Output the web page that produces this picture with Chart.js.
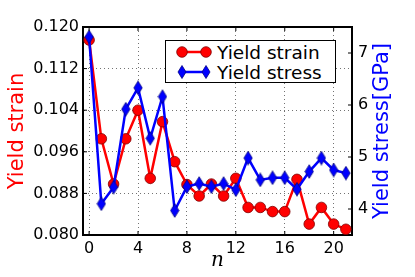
<!DOCTYPE html>
<html>
<head>
<meta charset="utf-8">
<script src="https://cdn.jsdelivr.net/npm/chart.js@4.4.1/dist/chart.umd.min.js"></script>
<style>
  html, body { margin: 0; padding: 0; background: #fff; }
  #wrap { position: relative; width: 415px; height: 277px; }
  #legend {
    position: absolute; left: 165px; top: 40px; width: 169px; height: 41px;
    border: 1.5px solid #000; background: #fff;
    font: 18.5px "DejaVu Sans", sans-serif; color: #000;
  }
  .row { position: absolute; left: 0; height: 20px; display: flex; align-items: center; }
  .row svg { margin-left: 10px; margin-right: 5px; }
</style>
</head>
<body>
<div id="wrap">
  <canvas id="chart" width="415" height="277"></canvas>
  <div id="legend">
    <div class="row" style="top:1px">
      <svg width="36" height="20">
        <line x1="6" y1="10" x2="30" y2="10" stroke="#ff0000" stroke-width="2.5"/>
        <circle cx="6" cy="10" r="5.3" fill="#ff0000" stroke="#800000" stroke-width="0.8"/>
        <circle cx="30" cy="10" r="5.3" fill="#ff0000" stroke="#800000" stroke-width="0.8"/>
      </svg>
      <span>Yield strain</span>
    </div>
    <div class="row" style="top:21px">
      <svg width="36" height="20">
        <line x1="6" y1="10" x2="30" y2="10" stroke="#0000ff" stroke-width="2.5"/>
        <polygon points="6,3.5 10,10 6,16.5 2,10" fill="#0000ff" stroke="#000080" stroke-width="0.8"/>
        <polygon points="30,3.5 34,10 30,16.5 26,10" fill="#0000ff" stroke="#000080" stroke-width="0.8"/>
      </svg>
      <span>Yield stress</span>
    </div>
  </div>
</div>
<script>
// Data
const nValues = [0, 1, 2, 3, 4, 5, 6, 7, 8, 9, 10, 11, 12, 13, 14, 15, 16, 17, 18, 19, 20, 21];
const yieldStrain = [0.1175, 0.0985, 0.0898, 0.0985, 0.1040, 0.0909, 0.1018, 0.0941, 0.0897, 0.0875, 0.0898,
                     0.0875, 0.0909, 0.0853, 0.0853, 0.0845, 0.0845, 0.0907, 0.0821, 0.0853, 0.0821, 0.0811];
const yieldStress = [7.31, 4.10, 4.42, 5.92, 6.33, 5.36, 6.16, 3.97, 4.43, 4.49, 4.43,
                     4.49, 4.37, 4.98, 4.56, 4.60, 4.60, 4.38, 4.72, 4.98, 4.75, 4.69];
const xTicks = [0, 4, 8, 12, 16, 20];
const strainTicks = [0.080, 0.088, 0.096, 0.104, 0.112, 0.120];
const stressTicks = [4, 5, 6, 7];

// thin diamond marker (matplotlib 'd')
function makeDiamond() {
  const c = document.createElement('canvas');
  c.width = 10; c.height = 15;
  const g = c.getContext('2d');
  g.beginPath();
  g.moveTo(5, 0.7); g.lineTo(9.2, 7.5); g.lineTo(5, 14.3); g.lineTo(0.8, 7.5); g.closePath();
  g.fillStyle = '#0000ff'; g.fill();
  g.lineWidth = 0.8; g.strokeStyle = '#000080'; g.stroke();
  return c;
}

const tickFont = { family: '"DejaVu Sans", sans-serif', size: 16 };
const gridStyle = { color: 'rgba(0,0,0,0.55)', lineWidth: 1, drawTicks: false };
const borderStyle = { display: true, color: '#000', width: 2 };

// axis titles + matplotlib-style inward tick marks
const axisTitles = {
  id: 'axisTitles',
  afterDraw(chart) {
    const { ctx, chartArea: a, scales } = chart;
    const midY = (a.top + a.bottom) / 2;
    ctx.save();

    ctx.strokeStyle = '#000';
    ctx.lineWidth = 1;
    ctx.beginPath();
    xTicks.forEach(v => {
      const px = scales.x.getPixelForValue(v);
      ctx.moveTo(px, a.bottom); ctx.lineTo(px, a.bottom - 4);
      ctx.moveTo(px, a.top); ctx.lineTo(px, a.top + 4);
    });
    strainTicks.forEach(v => {
      const py = scales.y.getPixelForValue(v);
      ctx.moveTo(a.left, py); ctx.lineTo(a.left + 4, py);
    });
    stressTicks.forEach(v => {
      const py = scales.y2.getPixelForValue(v);
      ctx.moveTo(a.right, py); ctx.lineTo(a.right - 4, py);
    });
    ctx.stroke();

    ctx.textAlign = 'center';
    ctx.textBaseline = 'middle';
    ctx.font = '21px "DejaVu Sans", sans-serif';

    ctx.save();
    ctx.fillStyle = '#ff0000';
    ctx.translate(18, midY);
    ctx.rotate(-Math.PI / 2);
    ctx.fillText('Yield strain', 0, 0);
    ctx.restore();

    ctx.save();
    ctx.fillStyle = '#0000ff';
    ctx.translate(383, midY);
    ctx.rotate(-Math.PI / 2);
    ctx.fillText('Yield stress[GPa]', 0, 0);
    ctx.restore();

    ctx.fillStyle = '#000';
    ctx.textBaseline = 'alphabetic';
    ctx.font = 'italic 20px "DejaVu Serif", serif';
    ctx.fillText('n', (a.left + a.right) / 2, 265.5);
    ctx.restore();
  }
};

new Chart(document.getElementById('chart'), {
  type: 'line',
  data: {
    labels: nValues,
    datasets: [{
      label: 'Yield stress',
      data: nValues.map((n, i) => ({ x: n, y: yieldStress[i] })),
      yAxisID: 'y2',
      order: 1,
      borderColor: '#0000ff',
      borderWidth: 2.5,
      pointStyle: makeDiamond(),
      pointRadius: 6,
      tension: 0
    }, {
      label: 'Yield strain',
      data: nValues.map((n, i) => ({ x: n, y: yieldStrain[i] })),
      yAxisID: 'y',
      order: 2,
      borderColor: '#ff0000',
      borderWidth: 2.5,
      pointStyle: 'circle',
      pointRadius: 5.3,
      pointBackgroundColor: '#ff0000',
      pointBorderColor: '#800000',
      pointBorderWidth: 0.8,
      tension: 0
    }]
  },
  options: {
    responsive: false,
    animation: false,
    layout: { padding: 0 },
    plugins: { legend: { display: false }, tooltip: { enabled: false } },
    scales: {
      x: {
        type: 'linear',
        position: 'bottom',
        min: -0.5,
        max: 21.5,
        afterBuildTicks: s => { s.ticks = xTicks.map(v => ({ value: v })); },
        afterFit: s => { s.height = 42; },
        ticks: { font: tickFont, color: '#000', padding: 4, autoSkip: false, maxRotation: 0, callback: v => String(v) },
        grid: { ...gridStyle },
        border: { ...borderStyle, dash: [1, 3] }
      },
      xTop: {
        type: 'linear',
        position: 'top',
        min: -0.5,
        max: 21.5,
        afterFit: s => { s.height = 27; },
        ticks: { display: false },
        grid: { display: false },
        border: borderStyle
      },
      y: {
        type: 'linear',
        position: 'left',
        min: 0.080,
        max: 0.120,
        afterBuildTicks: s => { s.ticks = strainTicks.map(v => ({ value: v })); },
        afterFit: s => { s.width = 83; },
        ticks: { font: tickFont, color: '#000', padding: 4, autoSkip: false, callback: v => v.toFixed(3) },
        grid: { ...gridStyle },
        border: { ...borderStyle, dash: [1, 3] }
      },
      y2: {
        type: 'linear',
        position: 'right',
        min: 3.5,
        max: 7.5,
        afterBuildTicks: s => { s.ticks = stressTicks.map(v => ({ value: v })); },
        afterFit: s => { s.width = 63; },
        ticks: { font: tickFont, color: '#000', padding: 6, autoSkip: false, callback: v => String(v) },
        grid: { drawOnChartArea: false, drawTicks: false },
        border: borderStyle
      }
    }
  },
  plugins: [axisTitles]
});
</script>
</body>
</html>
